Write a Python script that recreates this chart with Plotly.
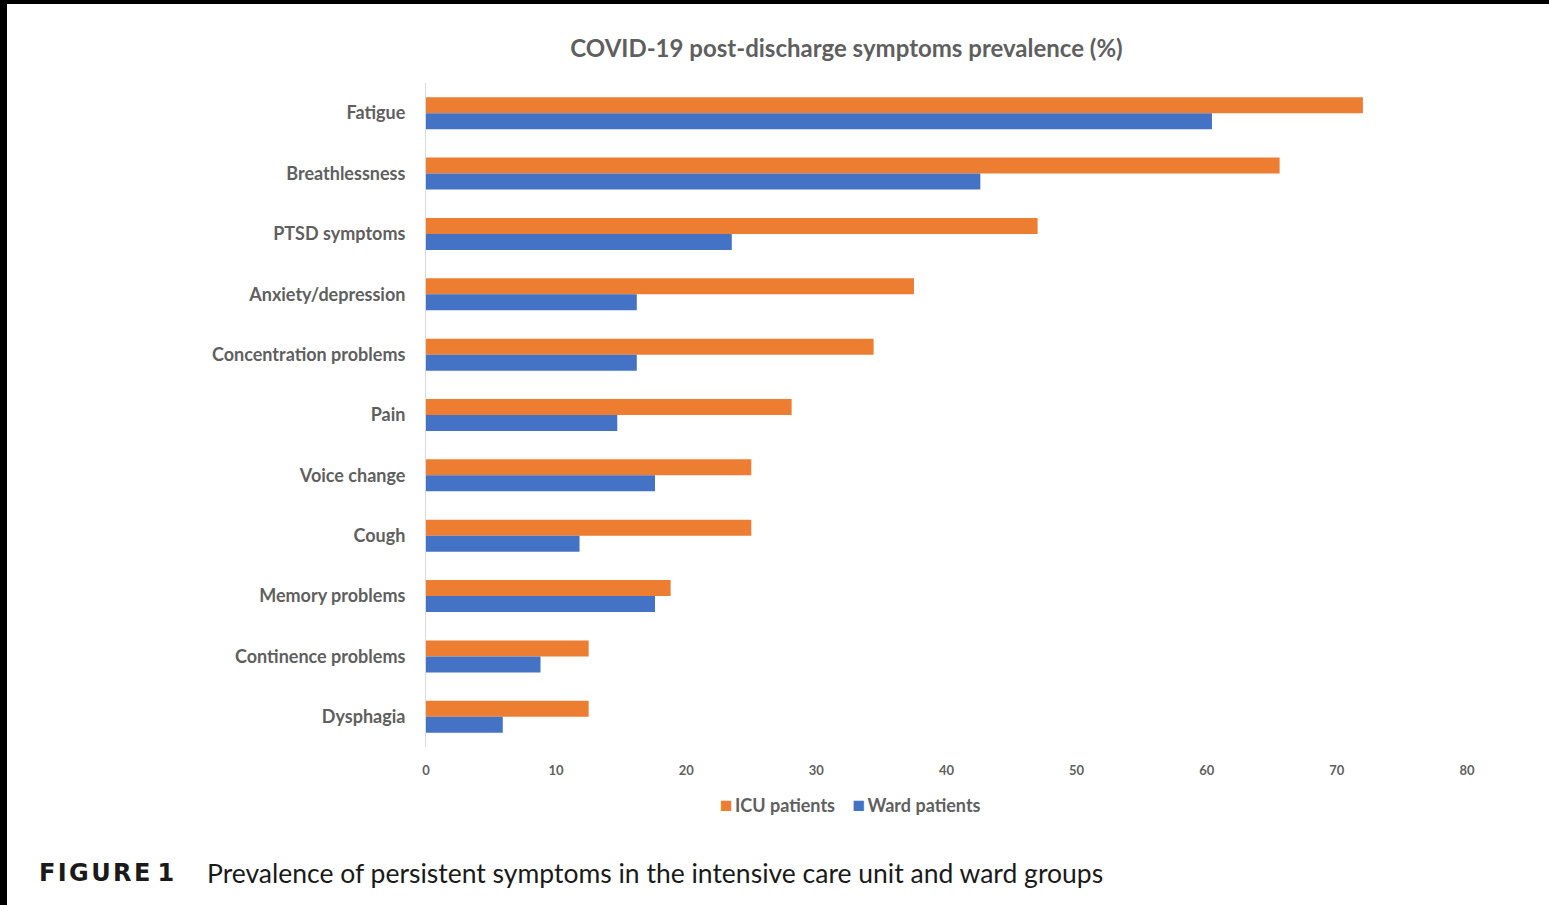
import plotly.graph_objects as go

categories = ["Fatigue", "Breathlessness", "PTSD symptoms", "Anxiety/depression",
              "Concentration problems", "Pain", "Voice change", "Cough",
              "Memory problems", "Continence problems", "Dysphagia"]
icu_values = [72.0, 65.6, 47.0, 37.5, 34.4, 28.1, 25.0, 25.0, 18.8, 12.5, 12.5]
ward_values = [60.4, 42.6, 23.5, 16.2, 16.2, 14.7, 17.6, 11.8, 17.6, 8.8, 5.9]
x_ticks = [0, 10, 20, 30, 40, 50, 60, 70, 80]
series_names = ["ICU patients", "Ward patients"]
series_colors = ["#ED7D31", "#4472C4"]

W, H = 1549, 905
L, R, T, B = 426, 82, 83, 158
pw, ph = W - L - R, H - T - B

def px(x):
    return (x - L) / pw

def py(y):
    return (H - B - y) / ph

FONT = "Lato, Open Sans, sans-serif"
GRAY = "#5f5f5f"

fig = go.Figure()
for name, vals, col in zip(series_names, [icu_values, ward_values], series_colors):
    fig.add_trace(go.Bar(y=categories, x=vals, orientation="h", name=name,
                         marker=dict(color=col, line=dict(width=0))))

fig.update_layout(
    width=W, height=H,
    margin=dict(l=L, r=R, t=T, b=B, pad=0),
    paper_bgcolor="white", plot_bgcolor="white",
    barmode="group", bargap=0.47, bargroupgap=0,
    showlegend=False,
    title=dict(text="COVID-19 post-discharge symptoms prevalence (%)",
               x=px(846.5), xanchor="center", xref="paper",
               y=1 - 49 / H, yanchor="middle",
               font=dict(family=FONT, size=24, color=GRAY, weight="bold")),
    xaxis=dict(range=[0, 80], tickvals=x_ticks, showgrid=False, zeroline=False,
               showline=False, ticks="", ticklabelstandoff=14,
               tickfont=dict(family=FONT, size=13, color=GRAY, weight="bold")),
    yaxis=dict(autorange="reversed", showgrid=False, zeroline=False,
               showline=True, linecolor="#D9D9D9", linewidth=1, ticks="",
               ticklabelstandoff=16,
               tickfont=dict(family=FONT, size=18, color=GRAY, weight="bold")),
)

legend_text = "&nbsp;&nbsp;&nbsp;&nbsp;".join(
    f'<span style="color:{c};font-size:21px">■</span>\u2009{n}' for n, c in zip(series_names, series_colors))
fig.add_annotation(text=legend_text, xref="paper", yref="paper",
                   x=px(850), xanchor="center", y=py(803), yanchor="middle",
                   showarrow=False,
                   font=dict(family=FONT, size=18, color=GRAY, weight="bold"))

fig_label = "\u200a".join("FIGURE") + "\u2009\u200a1"
fig.add_annotation(text=f"<b>{fig_label}</b>", xref="paper", yref="paper",
                   x=px(37), xanchor="left", y=py(873), yanchor="middle",
                   showarrow=False,
                   font=dict(family="DejaVu Sans, sans-serif", size=24, color="#1a1a1a"))
fig.add_annotation(text="Prevalence of persistent symptoms in the intensive care unit and ward groups",
                   xref="paper", yref="paper",
                   x=px(205), xanchor="left", y=py(873), yanchor="middle",
                   showarrow=False,
                   font=dict(family=FONT, size=26.5, color="#1a1a1a"))

# black scan border (top and left)
fig.add_shape(type="rect", xref="paper", yref="paper", x0=px(0), x1=px(W), y0=py(4), y1=py(-5),
              fillcolor="black", line=dict(width=0), layer="above")
fig.add_shape(type="rect", xref="paper", yref="paper", x0=px(-5), x1=px(7), y0=py(H + 5), y1=py(0),
              fillcolor="black", line=dict(width=0), layer="above")

fig.write_html("out.html")
